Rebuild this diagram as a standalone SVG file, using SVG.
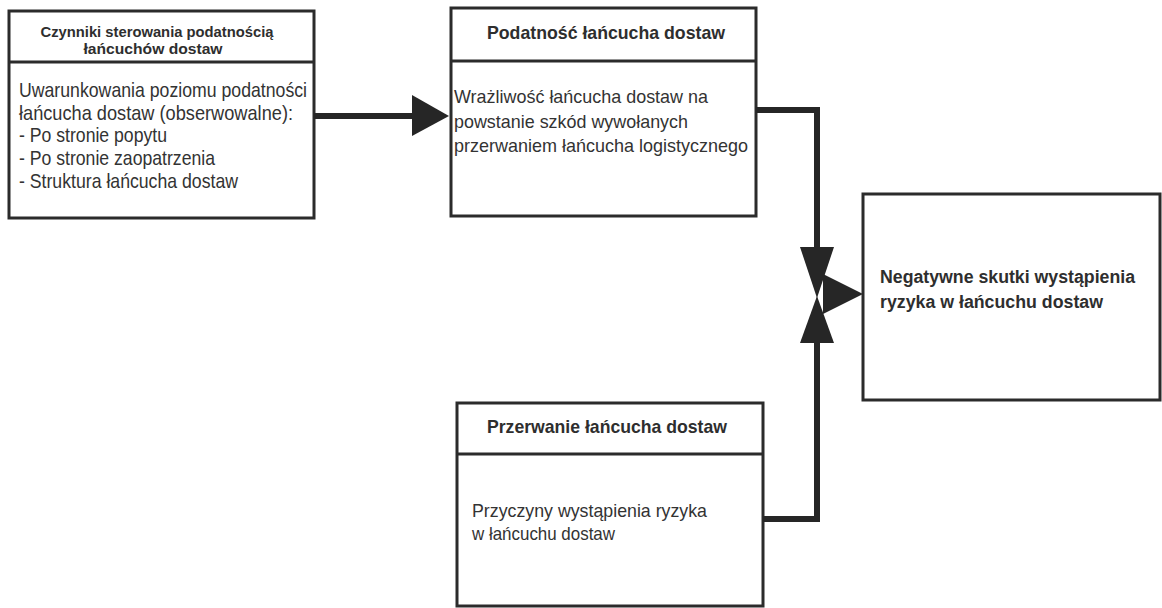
<svg xmlns="http://www.w3.org/2000/svg" width="1162" height="608" viewBox="0 0 1162 608">
<style>
.box{fill:#fff;stroke:#2b2b2b;stroke-width:3}
.div{stroke:#2b2b2b;stroke-width:3}
.hd{font-family:"Liberation Sans",Arial,sans-serif;font-weight:bold;fill:#2e2e2e;text-anchor:middle}
.bd{font-family:"Liberation Sans",Arial,sans-serif;fill:#333}
.con{fill:none;stroke:#262626;stroke-width:6}
.ah{fill:#262626}
</style>
<rect width="1162" height="608" fill="#fff"/>
<g id="node-czynniki">
<rect class="box" x="9" y="11" width="305" height="207"/>
<line class="div" x1="9" y1="62" x2="314" y2="62"/>
<text class="hd" font-size="15" x="157" y="37" textLength="233" lengthAdjust="spacingAndGlyphs">Czynniki sterowania podatnością</text>
<text class="hd" font-size="15" x="153" y="54" textLength="139" lengthAdjust="spacingAndGlyphs">łańcuchów dostaw</text>
<text class="bd" font-size="21" x="19" y="97" textLength="288" lengthAdjust="spacingAndGlyphs">Uwarunkowania poziomu podatności</text>
<text class="bd" font-size="21" x="19" y="120" textLength="274" lengthAdjust="spacingAndGlyphs">łańcucha dostaw (obserwowalne):</text>
<text class="bd" font-size="21" x="19" y="142" textLength="148" lengthAdjust="spacingAndGlyphs">- Po stronie popytu</text>
<text class="bd" font-size="21" x="19" y="165" textLength="196" lengthAdjust="spacingAndGlyphs">- Po stronie zaopatrzenia</text>
<text class="bd" font-size="21" x="19" y="188" textLength="219" lengthAdjust="spacingAndGlyphs">- Struktura łańcucha dostaw</text>
</g>
<g id="node-podatnosc">
<rect class="box" x="451" y="8" width="305" height="208"/>
<line class="div" x1="451" y1="61" x2="756" y2="61"/>
<text class="hd" font-size="19" x="606" y="39" textLength="238" lengthAdjust="spacingAndGlyphs">Podatność łańcucha dostaw</text>
<text class="bd" font-size="19" x="454" y="103" textLength="254" lengthAdjust="spacingAndGlyphs">Wrażliwość łańcucha dostaw na</text>
<text class="bd" font-size="19" x="454" y="128" textLength="234" lengthAdjust="spacingAndGlyphs">powstanie szkód wywołanych</text>
<text class="bd" font-size="19" x="454" y="152" textLength="294" lengthAdjust="spacingAndGlyphs">przerwaniem łańcucha logistycznego</text>
</g>
<g id="node-przerwanie">
<rect class="box" x="457" y="403" width="306" height="203"/>
<line class="div" x1="457" y1="454" x2="763" y2="454"/>
<text class="hd" font-size="19" x="607" y="433" textLength="240" lengthAdjust="spacingAndGlyphs">Przerwanie łańcucha dostaw</text>
<text class="bd" font-size="18.5" x="472" y="517" textLength="235" lengthAdjust="spacingAndGlyphs">Przyczyny wystąpienia ryzyka</text>
<text class="bd" font-size="18.5" x="472" y="540" textLength="143" lengthAdjust="spacingAndGlyphs">w łańcuchu dostaw</text>
</g>
<g id="node-skutki">
<rect class="box" x="863" y="194" width="297" height="206"/>
<text class="hd" font-size="18" x="880" y="283" style="text-anchor:start" textLength="255" lengthAdjust="spacingAndGlyphs">Negatywne skutki wystąpienia</text>
<text class="hd" font-size="18" x="880" y="308" style="text-anchor:start" textLength="223" lengthAdjust="spacingAndGlyphs">ryzyka w łańcuchu dostaw</text>
</g>
<g id="connectors">
<path class="con" d="M314,116 H414"/>
<polygon class="ah" points="412,95 449,116 412,136"/>
<path class="con" d="M756,110 H817 V252"/>
<polygon class="ah" points="800,247 834,247 817,298"/>
<path class="con" d="M763,519 H817 V338"/>
<polygon class="ah" points="800,343 834,343 817,296"/>
<polygon class="ah" points="823,274 823,314 863,294"/>
</g>
</svg>
